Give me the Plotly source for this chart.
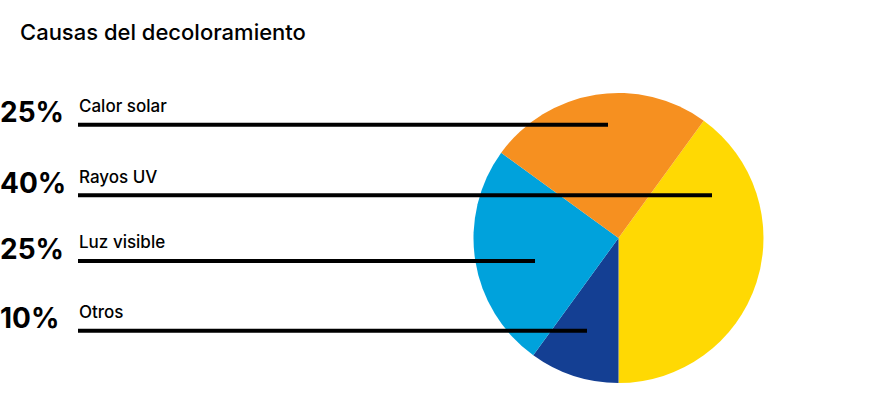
import plotly.graph_objects as go

# data
causes = ["Rayos UV", "Otros", "Luz visible", "Calor solar"]
shares = [40, 10, 25, 25]
slice_colors = ["#FFD903", "#143F93", "#00A2DC", "#F69020"]

# left-hand legend rows, top to bottom
row_labels = ["Calor solar", "Rayos UV", "Luz visible", "Otros"]
row_shares = [25, 40, 25, 10]

W, H = 874, 400

# pixel layout of each row: line y, line end x
row_line_y = [124.7, 195.3, 261.0, 330.7]
row_line_end = [608, 712, 535, 587]
line_start = 78


def px(x):
    return x / W


def py(y):
    return 1 - y / H


fig = go.Figure()
fig.add_trace(
    go.Pie(
        labels=causes,
        values=shares,
        sort=False,
        direction="clockwise",
        rotation=36,
        marker=dict(colors=slice_colors, line=dict(width=0)),
        textinfo="none",
        hoverinfo="label+percent",
        showlegend=False,
        domain=dict(x=[px(473), px(764)], y=[py(383), py(93)]),
    )
)

shapes = []
annotations = []
for label, share, ly, lx in zip(row_labels, row_shares, row_line_y, row_line_end):
    shapes.append(
        dict(
            type="line", xref="paper", yref="paper",
            x0=px(line_start), x1=px(lx),
            y0=py(ly), y1=py(ly),
            line=dict(color="#000000", width=4),
        )
    )
    annotations.append(
        dict(
            text=f"{share}%", xref="paper", yref="paper",
            x=px(-2), y=py(ly - 12.5),
            xanchor="left", yanchor="middle", showarrow=False,
            font=dict(family="Inter", size=28, color="#000000", weight=700),
        )
    )
    annotations.append(
        dict(
            text=label, xref="paper", yref="paper",
            x=px(77), y=py(ly - 18.5),
            xanchor="left", yanchor="middle", showarrow=False,
            font=dict(family="Inter", size=17, color="#000000", weight=500),
        )
    )

annotations.append(
    dict(
        text="Causas del decoloramiento", xref="paper", yref="paper",
        x=px(18), y=py(32),
        xanchor="left", yanchor="middle", showarrow=False,
        font=dict(family="Inter", size=22, color="#000000", weight=500),
    )
)

fig.update_layout(
    width=W,
    height=H,
    margin=dict(l=0, r=0, t=0, b=0),
    paper_bgcolor="#FFFFFF",
    plot_bgcolor="#FFFFFF",
    shapes=shapes,
    annotations=annotations,
)

# drop the default body margin so the figure sits flush in the window
fig.write_html(
    "out.html",
    config={"displayModeBar": False},
    post_script="document.body.style.margin = '0';",
)
